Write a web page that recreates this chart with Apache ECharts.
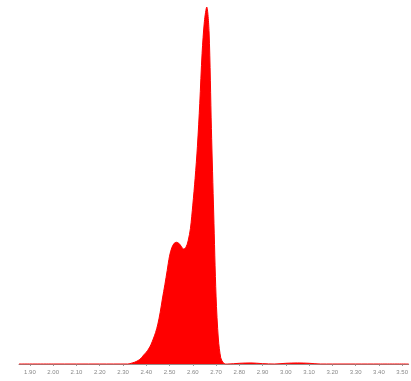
<!DOCTYPE html>
<html>
<head>
<meta charset="utf-8">
<script src="https://cdn.jsdelivr.net/npm/echarts@6/dist/echarts.min.js"></script>
<style>
  html, body { margin: 0; padding: 0; background: #fff; }
  #chart { width: 411px; height: 381px; }
</style>
</head>
<body>
<div id="chart"></div>
<script>
// sample positions (x) and relative density (peak = 100)
const xVals = [
  1.853, 2.0, 2.2, 2.32,
  2.33, 2.34, 2.35, 2.36, 2.37, 2.38, 2.39, 2.40, 2.41, 2.42, 2.43, 2.44,
  2.45, 2.46, 2.47, 2.48, 2.49, 2.50, 2.51, 2.52, 2.53, 2.54, 2.55, 2.56,
  2.57, 2.58, 2.59, 2.60, 2.61, 2.62, 2.63, 2.64, 2.65, 2.66, 2.67, 2.68,
  2.69, 2.70, 2.71, 2.72, 2.73, 2.74, 2.75,
  2.80, 2.85, 2.90, 2.95, 3.0, 3.05, 3.1, 3.15, 3.2, 3.3, 3.4, 3.528,
]
const densVals = [
  0, 0, 0, 0,
  0.1, 0.3, 0.5, 0.8, 1.2, 1.8, 2.6, 3.3, 4.2, 5.4, 7.0, 8.8,
  11.2, 14.5, 18.5, 22.2, 26.2, 30.2, 32.6, 33.8, 34.1, 33.8, 33.0, 32.2,
  32.6, 34.5, 38, 44.5, 52, 61, 73, 87, 96, 100, 93, 66,
  42, 19, 7, 1.8, 0.4, 0, 0,
  0.2, 0.3, 0.1, 0, 0.2, 0.3, 0.2, 0, 0, 0, 0, 0,
]
const tickVals = [1.9, 2.0, 2.1, 2.2, 2.3, 2.4, 2.5, 2.6, 2.7, 2.8, 2.9, 3.0, 3.1, 3.2, 3.3, 3.4, 3.5]

const chart = echarts.init(document.getElementById('chart'))
chart.setOption({
  animation: false,
  grid: { left: 19, right: 0, top: 7, bottom: 17 },
  xAxis: {
    type: 'value',
    min: 1.853,
    max: 3.528,
    splitLine: { show: false },
    axisLine: { lineStyle: { color: '#9a8a8a', width: 1 } },
    axisTick: { customValues: tickVals, length: 2, lineStyle: { color: '#999' } },
    axisLabel: {
      customValues: tickVals,
      color: '#888',
      fontSize: 6,
      margin: 5,
      formatter: (v) => v.toFixed(2),
    },
  },
  yAxis: {
    type: 'value',
    min: 0,
    max: 100,
    show: false,
  },
  series: [
    {
      type: 'line',
      data: xVals.map((x, i) => [x, densVals[i]]),
      smooth: 0.3,
      symbol: 'none',
      lineStyle: { color: '#ff0000', width: 1 },
      areaStyle: { color: '#ff0000', opacity: 1 },
    },
  ],
})
</script>
</body>
</html>
